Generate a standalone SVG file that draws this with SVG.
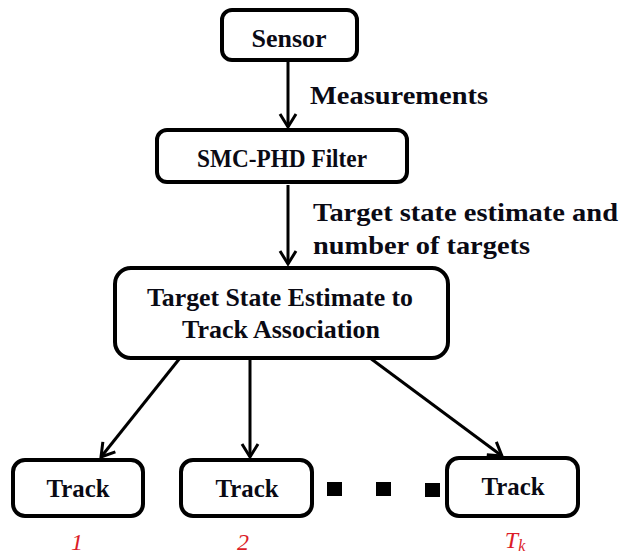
<svg xmlns="http://www.w3.org/2000/svg" width="625" height="554" viewBox="0 0 625 554">
<style>
.box{fill:#fff;stroke:#000;stroke-width:4}
.t{font-family:"Liberation Serif","Times New Roman",serif;font-weight:bold;font-size:26px;fill:#0a0a14}
.c{text-anchor:middle}
.lbl{font-family:"Liberation Serif","Times New Roman",serif;font-style:italic;font-size:24px;fill:#dc1c28;text-anchor:middle}
.ln{stroke:#000;stroke-width:3;fill:none}
</style>
<defs>
<marker id="ah" markerUnits="userSpaceOnUse" markerWidth="30" markerHeight="30" viewBox="-15 -15 30 30" refX="0" refY="0" orient="auto">
<path d="M-13,-8 L0,0 L-13,8" fill="none" stroke="#000" stroke-width="3"/>
</marker>
</defs>
<rect width="625" height="554" fill="#fff"/>
<g id="connectors">
<line class="ln" x1="288" y1="62" x2="288" y2="127" marker-end="url(#ah)"/>
<line class="ln" x1="288" y1="185" x2="288" y2="264" marker-end="url(#ah)"/>
<line class="ln" x1="180" y1="358" x2="101" y2="457" marker-end="url(#ah)"/>
<line class="ln" x1="250" y1="358" x2="250" y2="457" marker-end="url(#ah)"/>
<line class="ln" x1="370" y1="358" x2="502" y2="456" marker-end="url(#ah)"/>
</g>
<g id="edge-labels">
<text class="t" x="310" y="104" textLength="178" lengthAdjust="spacingAndGlyphs">Measurements</text>
<text class="t" x="313" y="221" textLength="305" lengthAdjust="spacingAndGlyphs">Target state estimate and</text>
<text class="t" x="313" y="254" textLength="217" lengthAdjust="spacingAndGlyphs">number of targets</text>
</g>
<g id="sensor">
<rect class="box" x="222" y="10" width="135" height="50" rx="10"/>
<text class="t c" x="289" y="47" textLength="75" lengthAdjust="spacingAndGlyphs">Sensor</text>
</g>
<g id="smc-phd">
<rect class="box" x="157" y="130" width="250" height="52" rx="10"/>
<text class="t c" x="282" y="167" textLength="170" lengthAdjust="spacingAndGlyphs">SMC-PHD Filter</text>
</g>
<g id="association">
<rect class="box" x="115" y="268" width="333" height="90" rx="16"/>
<text class="t c" x="280" y="306" textLength="266" lengthAdjust="spacingAndGlyphs">Target State Estimate to</text>
<text class="t c" x="281" y="338" textLength="198" lengthAdjust="spacingAndGlyphs">Track Association</text>
</g>
<g id="track1">
<rect class="box" x="13" y="460" width="130" height="56" rx="12"/>
<text class="t c" x="78" y="497" textLength="63" lengthAdjust="spacingAndGlyphs">Track</text>
<text class="lbl" x="77" y="550">1</text>
</g>
<g id="track2">
<rect class="box" x="181" y="460" width="131" height="56" rx="12"/>
<text class="t c" x="247" y="497" textLength="63" lengthAdjust="spacingAndGlyphs">Track</text>
<text class="lbl" x="243" y="550">2</text>
</g>
<g id="dots">
<rect x="327" y="482" width="15" height="14" fill="#000"/>
<rect x="376" y="482" width="15" height="14" fill="#000"/>
<rect x="425" y="483" width="15" height="14" fill="#000"/>
</g>
<g id="trackk">
<rect class="box" x="447" y="458" width="131" height="58" rx="12"/>
<text class="t c" x="513" y="495" textLength="63" lengthAdjust="spacingAndGlyphs">Track</text>
<text class="lbl" x="515" y="548">T<tspan font-size="16" dy="3">k</tspan></text>
</g>
</svg>
